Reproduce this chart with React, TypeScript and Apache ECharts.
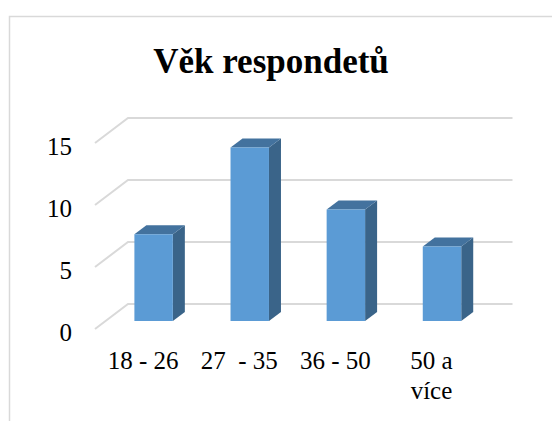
import React, { useEffect, useRef } from "react";
import * as echarts from "echarts";

const titleText = "Věk respondetů";
const categories = ["18 - 26", "27  - 35", "36 - 50", "50 a\nvíce"];
const values = [7, 14, 9, 6];
const yTicks = [0, 5, 10, 15];

const FONT = "'Liberation Serif', 'Times New Roman', serif";

export default function App() {
  const ref = useRef<HTMLDivElement>(null);
  useEffect(() => {
    if (!ref.current) return;
    const chart = echarts.init(ref.current, undefined, { renderer: "svg" });
    const wallDX = 33;
    const wallDY = -25;
    const barPos = 0.32;
    const barDX = 12;
    const barDY = -9;
    const option: any = {
      animation: false,
      backgroundColor: "#ffffff",
      graphic: [
        {
          type: "rect",
          shape: { x: 9.5, y: 16.5, width: 600, height: 500 },
          style: { fill: "none", stroke: "#d9d9d9", lineWidth: 1.5 },
          z: 0,
        },
        {
          type: "text",
          x: 271,
          y: 61,
          style: {
            text: titleText,
            font: `bold 35px ${FONT}`,
            fill: "#000000",
            align: "center",
            verticalAlign: "middle",
          },
        },
      ],
      grid: { left: 95, right: 72.5, top: 143, bottom: 92, containLabel: false },
      xAxis: {
        type: "category",
        data: categories,
        axisLine: { show: false },
        axisTick: { show: false },
        splitLine: { show: false },
        axisLabel: {
          interval: 0,
          margin: 16,
          fontSize: 25,
          lineHeight: 30,
          fontFamily: FONT,
          color: "#000000",
        },
      },
      yAxis: {
        type: "value",
        min: 0,
        max: 15,
        interval: 5,
        axisLine: { show: false },
        axisTick: { show: false },
        splitLine: { show: false },
        axisLabel: {
          margin: 23,
          formatter: "{v|{value}}",
          rich: {
            v: {
              fontSize: 25,
              fontFamily: FONT,
              color: "#000000",
              padding: [7, 0, 0, 0],
            },
          },
        },
      },
      series: [
        {
          type: "custom",
          silent: true,
          data: yTicks.map((t) => [0, t]),
          z: 1,
          renderItem: (params: any, api: any) => {
            const cs = params.coordSys;
            const y = api.coord([0, api.value(1)])[1];
            const l = cs.x;
            const r = cs.x + cs.width;
            return {
              type: "polyline",
              shape: {
                points: [
                  [l, y],
                  [l + wallDX, y + wallDY],
                  [r + wallDX, y + wallDY],
                ],
              },
              style: { stroke: "#d9d9d9", lineWidth: 2, fill: "none" },
            };
          },
        },
        {
          type: "custom",
          silent: true,
          data: values.map((v, i) => [i, v]),
          z: 2,
          renderItem: (params: any, api: any) => {
            const i = api.value(0);
            const v = api.value(1);
            const base = api.coord([i, 0]);
            const top = api.coord([i, v]);
            const band = api.size([1, 0])[0];
            const w = band * 0.4;
            const cx = base[0] + barPos * wallDX;
            const by = base[1] + barPos * wallDY;
            const ty = top[1] + barPos * wallDY;
            const x0 = cx - w / 2;
            const x1 = cx + w / 2;
            return {
              type: "group",
              children: [
                {
                  type: "polygon",
                  shape: {
                    points: [
                      [x1, ty],
                      [x1 + barDX, ty + barDY],
                      [x1 + barDX, by + barDY],
                      [x1, by],
                    ],
                  },
                  style: { fill: "#3a6489" },
                },
                {
                  type: "polygon",
                  shape: {
                    points: [
                      [x0, ty],
                      [x1, ty],
                      [x1 + barDX, ty + barDY],
                      [x0 + barDX, ty + barDY],
                    ],
                  },
                  style: { fill: "#43729e" },
                },
                {
                  type: "rect",
                  shape: { x: x0, y: ty, width: w, height: by - ty },
                  style: { fill: "#5b9bd5" },
                },
              ],
            };
          },
        },
      ],
    };
    chart.setOption(option);
    return () => chart.dispose();
  }, []);
  return (
    <div
      ref={ref}
      style={{ position: "absolute", left: 0, top: 0, width: 552, height: 421 }}
    />
  );
}
